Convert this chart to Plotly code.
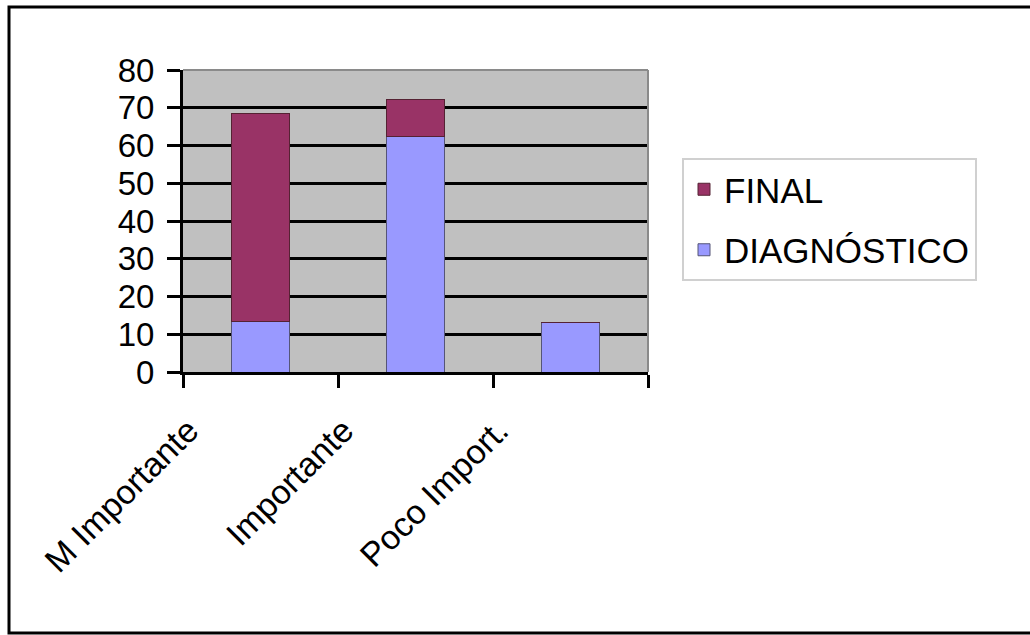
import plotly.graph_objects as go

categories = ["M Importante", "Importante", "Poco Import."]
diagnostico = [13.5, 62.5, 13.0]
final = [55.0, 9.8, 0.0]
y_ticks = [0, 10, 20, 30, 40, 50, 60, 70, 80]

FONT = "Liberation Sans, Arial, sans-serif"

fig = go.Figure()
fig.add_trace(go.Bar(
    x=categories, y=diagnostico, name="DIAGNÓSTICO", legendgroup="d", legendrank=2,
    marker=dict(color="#9999FF", line=dict(color="#555577", width=1)),
))
fig.add_trace(go.Bar(
    x=categories, y=final, name="FINAL", legendgroup="f", legendrank=1,
    marker=dict(color="#993366", line=dict(color="#552233", width=1)),
))

W, H = 1030, 635
L, R, T, B = 183, 648, 70, 372
pw, ph = R - L, B - T

def px(x):
    return (x - L) / pw

def py(y):
    return (B - y) / ph

fig.update_layout(
    width=W, height=H,
    margin=dict(l=L, r=W - R, t=T, b=H - B, pad=0),
    paper_bgcolor="white",
    plot_bgcolor="#C0C0C0",
    barmode="stack",
    bargap=0.625,
    font=dict(family=FONT, color="black"),
    legend=dict(
        x=px(682), y=py(158), xanchor="left", yanchor="top",
        bordercolor="#D0D0D0", borderwidth=2, bgcolor="white",
        font=dict(size=35, family=FONT, color="black"),
        traceorder="grouped", tracegroupgap=12,
    ),
    xaxis=dict(
        showline=True, linecolor="black", linewidth=3,
        ticks="outside", ticklen=13, tickwidth=3, tickcolor="black",
        tickson="boundaries", tickangle=-45,
        ticklabelstandoff=22, ticklabelshift=-72,
        tickfont=dict(size=34, family=FONT, color="black"),
        showgrid=False,
    ),
    yaxis=dict(
        range=[0, 80], tickvals=y_ticks,
        showline=True, linecolor="black", linewidth=3,
        ticks="outside", ticklen=13, tickwidth=3, tickcolor="black",
        ticklabelstandoff=6,
        tickfont=dict(size=33, family=FONT, color="black"),
        showgrid=True, gridcolor="black", gridwidth=2.5,
        zeroline=False,
    ),
    shapes=[
        dict(type="line", xref="paper", yref="paper", x0=0, x1=1, y0=1, y1=1,
             line=dict(color="#8A8A8A", width=2)),
        dict(type="line", xref="paper", yref="paper", x0=1, x1=1, y0=0, y1=1,
             line=dict(color="#8A8A8A", width=2)),
        dict(type="rect", xref="paper", yref="paper",
             x0=px(9), x1=px(1040), y0=py(633), y1=py(7),
             line=dict(color="black", width=3), layer="above"),
    ],
)

fig.write_html("out.html")
